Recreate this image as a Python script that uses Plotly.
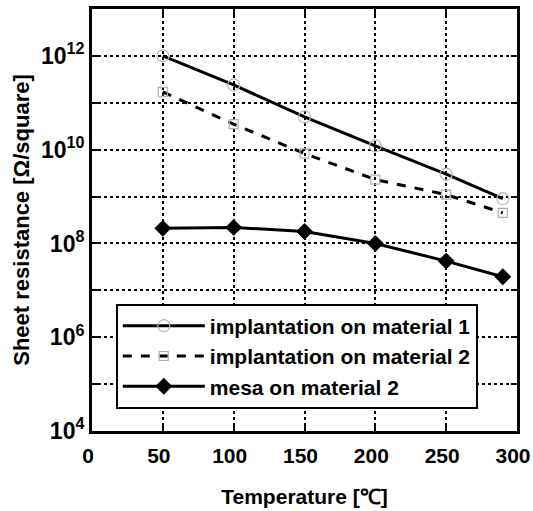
import plotly.graph_objects as go

temperature = [50, 100, 150, 200, 250, 290]
impl_mat1 = [1.0e12, 2.4e11, 5.0e10, 1.2e10, 3.0e9, 9.0e8]
impl_mat2 = [1.7e11, 3.5e10, 8.3e9, 2.3e9, 1.1e9, 4.5e8]
mesa_mat2 = [2.1e8, 2.2e8, 1.8e8, 1.0e8, 4.2e7, 1.95e7]

series_names = ["implantation on material 1", "implantation on material 2", "mesa on material 2"]

x_ticks = [0, 50, 100, 150, 200, 250, 300]
y_ticks = [1e4, 1e5, 1e6, 1e7, 1e8, 1e9, 1e10, 1e11, 1e12, 1e13]
y_ticktext = ["10<sup>4</sup>", "", "10<sup>6</sup>", "", "10<sup>8</sup>", "",
              "10<sup>10</sup>", "", "10<sup>12</sup>", ""]

FONT = "Liberation Sans, Arial, sans-serif"

fig = go.Figure()
fig.add_trace(go.Scatter(
    x=temperature, y=impl_mat1, name=series_names[0], mode="lines+markers",
    line=dict(color="black", width=3),
    marker=dict(symbol="circle-open", size=12, color="#b8b8b8", line=dict(width=1.2, color="#b8b8b8")),
))
fig.add_trace(go.Scatter(
    x=temperature, y=impl_mat2, name=series_names[1], mode="lines+markers",
    line=dict(color="black", width=3, dash="dash"),
    marker=dict(symbol="square-open", size=9, color="#b0b0b0", line=dict(width=1.2, color="#b0b0b0")),
))
fig.add_trace(go.Scatter(
    x=temperature, y=mesa_mat2, name=series_names[2], mode="lines+markers",
    line=dict(color="black", width=3),
    marker=dict(symbol="diamond", size=13, color="black"),
))

fig.update_layout(
    width=533, height=511,
    margin=dict(l=92, r=16, t=9, b=80),
    paper_bgcolor="white", plot_bgcolor="white",
    font=dict(family=FONT, color="black", size=20, weight="bold"),
    showlegend=True,
    legend=dict(
        x=0.056, y=0.302, xanchor="left", yanchor="top",
        bgcolor="white", bordercolor="black", borderwidth=2,
        font=dict(family=FONT, size=21, color="black", weight="bold"),
        tracegroupgap=0, itemwidth=82,
    ),
)

fig.update_xaxes(
    range=[0, 300], tickvals=x_ticks, automargin=False,
    showline=True, linecolor="black", linewidth=3, mirror="ticks",
    ticks="inside", ticklen=6, tickwidth=1.5, tickcolor="black",
    showgrid=True, gridcolor="black", gridwidth=1.5, griddash="dot",
    zeroline=False,
    ticklabeloverflow="allow", ticklabelshift=-4, ticklabelstandoff=4,
    tickfont=dict(family=FONT, size=21, color="black", weight="bold"),
    title=dict(text="Temperature [℃]", font=dict(family=FONT, size=21, color="black", weight="bold"), standoff=24),
)
fig.update_yaxes(
    type="log", range=[4, 13], tickvals=y_ticks, ticktext=y_ticktext, automargin=False,
    showline=True, linecolor="black", linewidth=3, mirror="ticks",
    ticks="inside", ticklen=6, tickwidth=1.5, tickcolor="black",
    showgrid=True, gridcolor="black", gridwidth=1.5, griddash="dot",
    zeroline=False,
    tickfont=dict(family=FONT, size=23, color="black", weight="bold"),
    title=dict(text="Sheet resistance [Ω/square]", font=dict(family=FONT, size=22, color="black", weight="bold"), standoff=6),
)

fig.write_html("out.html")
